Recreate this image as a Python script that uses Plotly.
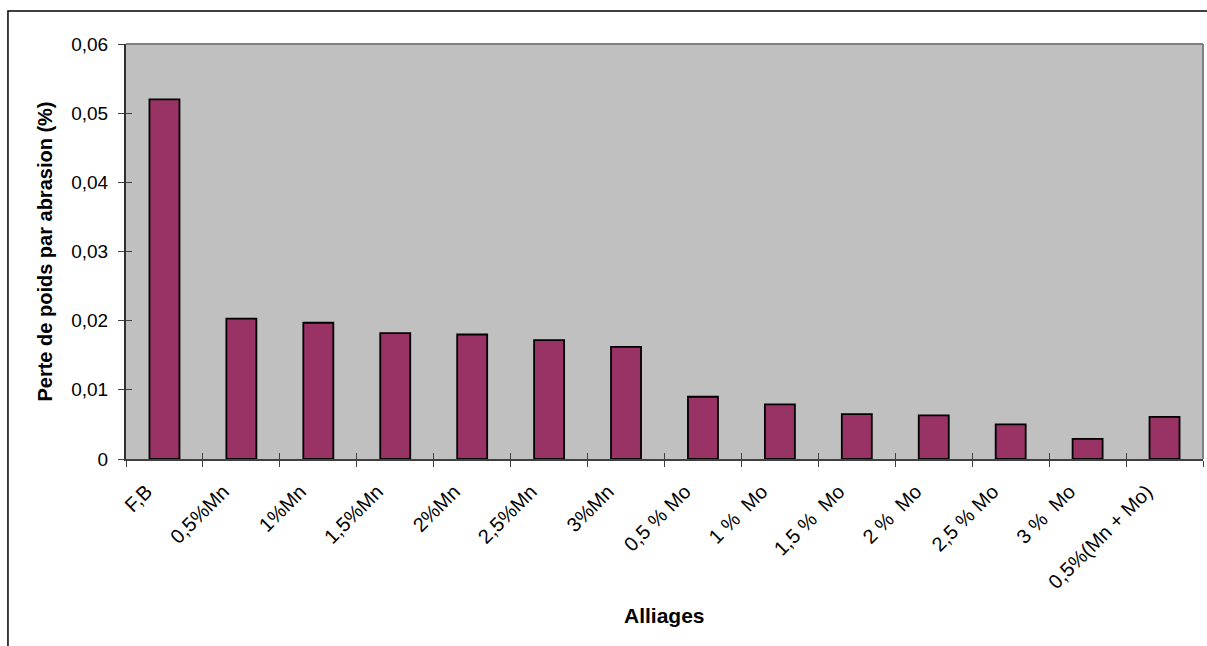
import plotly.graph_objects as go

# Abrasion weight loss per alloy
alliages = [
    "F,B", "0,5%Mn", "1%Mn", "1,5%Mn", "2%Mn", "2,5%Mn", "3%Mn",
    "0,5 % Mo", "1 %\u00a0 Mo", "1,5 %\u00a0 Mo", "2 %\u00a0 Mo", "2,5 % Mo",
    "3 %\u00a0 Mo", "0,5%(Mn + Mo)",
]
perte_poids = [
    0.052, 0.0203, 0.0197, 0.0182, 0.0180, 0.0172, 0.0162,
    0.0090, 0.0079, 0.0065, 0.0063, 0.0050, 0.0029, 0.0061,
]
y_ticks = [0, 0.01, 0.02, 0.03, 0.04, 0.05, 0.06]

FONT = "Arial, Liberation Sans, sans-serif"

fig = go.Figure()
fig.add_trace(go.Bar(
    x=alliages, y=perte_poids,
    marker=dict(color="#993366", line=dict(color="black", width=1.8)),
    xaxis="x", yaxis="y",
))
# invisible copy on overlay axes, used to draw the inner half of the cross ticks
fig.add_trace(go.Bar(
    x=alliages, y=perte_poids, opacity=0, hoverinfo="skip",
    xaxis="x2", yaxis="y2", showlegend=False,
))

fig.update_layout(
    width=1207, height=646,
    margin=dict(l=126, r=4, t=44, b=187),
    paper_bgcolor="white",
    plot_bgcolor="#C0C0C0",
    separators=", ",
    showlegend=False,
    bargap=0.61,
    font=dict(family=FONT, color="black"),
    xaxis=dict(
        type="category", categoryarray=alliages,
        tickson="boundaries", ticks="outside", ticklen=6, tickwidth=1,
        tickcolor="#404040", tickangle=-45,
        tickfont=dict(family=FONT, size=20, color="black"),
        ticklabelshift=-18, ticklabelstandoff=11,
        showline=True, linecolor="#404040", linewidth=2,
        showgrid=False, zeroline=False,
    ),
    yaxis=dict(
        range=[0, 0.06], tickvals=y_ticks,
        ticks="outside", ticklen=6, tickwidth=1, tickcolor="#404040",
        tickfont=dict(family=FONT, size=19, color="black"),
        ticklabelstandoff=6,
        showline=True, linecolor="#303030", linewidth=2,
        showgrid=False, zeroline=False,
    ),
    xaxis2=dict(
        type="category", categoryarray=alliages, overlaying="x",
        tickson="boundaries", ticks="inside", ticklen=6, tickwidth=1,
        tickcolor="#404040", showticklabels=False, showgrid=False,
        zeroline=False, showline=False, matches="x",
    ),
    yaxis2=dict(
        range=[0, 0.06], tickvals=y_ticks, overlaying="y",
        ticks="inside", ticklen=6, tickwidth=1, tickcolor="#404040",
        showticklabels=False, showgrid=False, zeroline=False, showline=False,
    ),
    shapes=[
        # plot-area frame (top and right edges)
        dict(type="line", xref="paper", yref="paper", x0=0, x1=1, y0=1, y1=1,
             line=dict(color="#808080", width=2)),
        dict(type="line", xref="paper", yref="paper", x0=1, x1=1, y0=0, y1=1,
             line=dict(color="#808080", width=2)),
        # chart-area border
        dict(type="rect", xref="paper", yref="paper",
             x0=-0.1096, x1=1.2, y0=-0.6, y1=1.0795,
             line=dict(color="black", width=1.5), layer="below"),
    ],
    annotations=[
        dict(text="<b>Perte de poids par abrasion (%)</b>", textangle=-90,
             xref="paper", yref="paper", x=-0.0761, y=0.5,
             xanchor="center", yanchor="middle", showarrow=False,
             font=dict(family=FONT, size=20, color="black")),
        dict(text="<b>Alliages</b>",
             xref="paper", yref="paper", x=0.5, y=-0.378,
             xanchor="center", yanchor="middle", showarrow=False,
             font=dict(family=FONT, size=21, color="black")),
    ],
)

fig.write_html("out.html")
